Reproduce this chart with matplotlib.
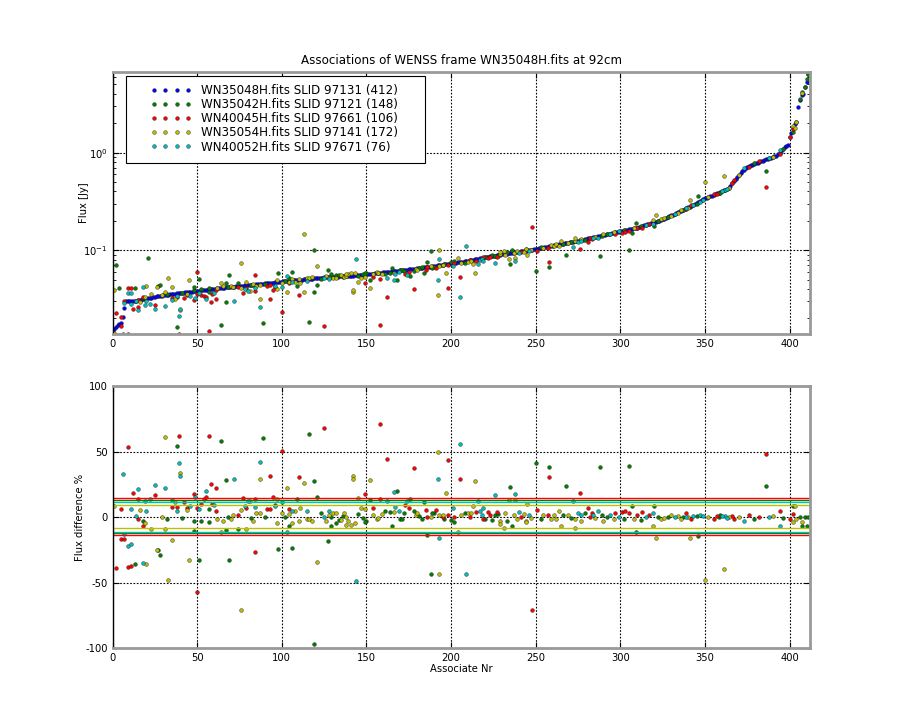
import numpy as np
import matplotlib
matplotlib.use("Agg")
import matplotlib.pyplot as plt
from matplotlib.lines import Line2D
from matplotlib.patches import Rectangle
from matplotlib.legend_handler import HandlerLine2D

plt.rcParams['axes.unicode_minus'] = False
plt.rcParams['font.family'] = ['DejaVu Sans']

title = "Associations of WENSS frame WN35048H.fits at 92cm"
labels = ["WN35048H.fits SLID 97131 (412)", "WN35042H.fits SLID 97121 (148)",
          "WN40045H.fits SLID 97661 (106)", "WN35054H.fits SLID 97141 (172)",
          "WN40052H.fits SLID 97671 (76)"]
colors = ["#0000ff", "#008000", "#ff0000", "#bfbf00", "#00bfbf"]

# Reference (blue) fluxes in Jy, sorted, one per associate index 0..411
blue_flux = [
 0.0146,0.0155,0.0163,0.0172,0.0175,0.0178,0.0205,0.0258,0.0298,0.0300,
 0.0301,0.0302,0.0303,0.0304,0.0305,0.0307,0.0309,0.0311,0.0313,0.0315,
 0.0318,0.0321,0.0324,0.0327,0.0330,0.0333,0.0336,0.0339,0.0341,0.0343,
 0.0344,0.0346,0.0348,0.0350,0.0352,0.0354,0.0356,0.0358,0.0360,0.0362,
 0.0364,0.0366,0.0368,0.0370,0.0372,0.0374,0.0376,0.0377,0.0379,0.0381,
 0.0383,0.0385,0.0387,0.0388,0.0390,0.0392,0.0394,0.0396,0.0398,0.0400,
 0.0402,0.0404,0.0406,0.0408,0.0410,0.0412,0.0414,0.0416,0.0418,0.0419,
 0.0421,0.0422,0.0424,0.0426,0.0428,0.0429,0.0431,0.0433,0.0435,0.0436,
 0.0438,0.0440,0.0441,0.0443,0.0445,0.0447,0.0448,0.0450,0.0452,0.0454,
 0.0456,0.0458,0.0460,0.0462,0.0464,0.0466,0.0468,0.0470,0.0472,0.0474,
 0.0476,0.0478,0.0480,0.0482,0.0484,0.0486,0.0488,0.0490,0.0492,0.0494,
 0.0496,0.0498,0.0500,0.0502,0.0504,0.0506,0.0508,0.0510,0.0512,0.0514,
 0.0516,0.0519,0.0520,0.0522,0.0523,0.0525,0.0526,0.0528,0.0529,0.0531,
 0.0532,0.0534,0.0535,0.0537,0.0538,0.0540,0.0541,0.0543,0.0544,0.0546,
 0.0547,0.0549,0.0550,0.0552,0.0553,0.0555,0.0556,0.0558,0.0560,0.0562,
 0.0565,0.0568,0.0570,0.0573,0.0576,0.0578,0.0581,0.0584,0.0587,0.0590,
 0.0592,0.0595,0.0598,0.0601,0.0604,0.0607,0.0610,0.0612,0.0615,0.0618,
 0.0620,0.0623,0.0626,0.0630,0.0633,0.0636,0.0639,0.0643,0.0646,0.0649,
 0.0652,0.0656,0.0659,0.0662,0.0666,0.0669,0.0673,0.0676,0.0680,0.0684,
 0.0688,0.0693,0.0697,0.0701,0.0706,0.0710,0.0714,0.0719,0.0723,0.0728,
 0.0732,0.0737,0.0741,0.0746,0.0751,0.0755,0.0760,0.0765,0.0770,0.0776,
 0.0782,0.0788,0.0794,0.0800,0.0806,0.0812,0.0818,0.0825,0.0831,0.0837,
 0.0843,0.0850,0.0856,0.0863,0.0870,0.0875,0.0881,0.0887,0.0893,0.0899,
 0.0904,0.0910,0.0916,0.0922,0.0928,0.0934,0.0940,0.0946,0.0952,0.0958,
 0.0964,0.0970,0.0977,0.0983,0.0989,0.0995,0.1002,0.1008,0.1014,0.1020,
 0.1028,0.1036,0.1044,0.1052,0.1060,0.1069,0.1077,0.1085,0.1094,0.1102,
 0.1111,0.1119,0.1128,0.1137,0.1146,0.1155,0.1164,0.1173,0.1182,0.1191,
 0.1200,0.1210,0.1219,0.1229,0.1240,0.1251,0.1262,0.1273,0.1284,0.1295,
 0.1307,0.1318,0.1330,0.1342,0.1354,0.1366,0.1378,0.1390,0.1403,0.1415,
 0.1428,0.1441,0.1454,0.1467,0.1480,0.1493,0.1507,0.1520,0.1534,0.1550,
 0.1563,0.1576,0.1589,0.1603,0.1616,0.1630,0.1644,0.1658,0.1672,0.1686,
 0.1700,0.1722,0.1745,0.1768,0.1791,0.1815,0.1839,0.1863,0.1887,0.1912,
 0.1938,0.1963,0.1989,0.2015,0.2042,0.2070,0.2109,0.2149,0.2190,0.2232,
 0.2274,0.2317,0.2361,0.2406,0.2452,0.2498,0.2546,0.2594,0.2643,0.2694,
 0.2745,0.2797,0.2850,0.2904,0.2960,0.303,0.310,0.318,0.325,0.333,
 0.339,0.345,0.351,0.357,0.363,0.369,0.375,0.382,0.388,0.395,
 0.402,0.409,0.416,0.423,0.430,0.46,0.49,0.513,0.537,0.563,
 0.59,0.62,0.65,0.67,0.69,0.71,0.73,0.74,0.75,0.77,
 0.78,0.79,0.81,0.82,0.83,0.84,0.85,0.87,0.88,0.89,
 0.90,0.92,0.93,0.96,1.00,1.04,1.08,1.13,1.18,1.20,
 1.44,1.60,1.80,1.98,2.05,2.9,3.5,3.9,4.0,4.7,5.3,6.4]

# Associated sources: associate index and flux difference % = (ref - assoc) / ref * 100
green_idx = [18,32,38,41,48,52,57,57,64,67,68,82,89,90,102,109,116,119,121,123,129,132,134,136,145,148,150,152,
             161,164,168,170,171,172,176,178,181,183,184,190,13,27,28,48,51,67,69,74,98,104,106,119,127,129,149,
             165,186,188,189,196,200,202,208,220,224,226,228,233,235,250,253,258,266,268,271,279,288,289,292,302,
             305,307,312,320,322,328,337,345,358,359,379,386,396,406,409,411,236,309,346,407,410,402,2,4,21]
green_diff = [-2.8,-1.3,54.2,-0.5,-3.3,-3.3,-3.8,5.8,58.2,28.5,-0.3,-0.8,60.7,0.3,0.3,13.9,63.7,27.5,15.4,2.8,-0.3,
              -4.8,-2.3,0.8,2.3,-0.8,-3.3,12.8,4.8,3.8,19.9,-1.8,-1.3,2.8,13.9,4.3,0.8,-1.3,11.8,3.3,-35.7,-25.5,
              -28.8,-10.5,-32.7,-9.7,-32.7,-8.9,-24.2,-7.1,-23.5,-96.9,-18.6,-7.1,-3.6,-7.1,-13.3,-43.4,3.5,-1.3,
              -2.3,-3.8,3.5,-1.8,-2.3,1.8,2.3,-2.8,22.9,41.0,-1.8,38.0,1.3,23.9,-0.8,2.8,38.0,1.8,-0.3,-1.8,39.0,
              8.8,-2.3,8.8,-0.3,-0.3,0.3,0.8,0.3,1.8,-1.3,23.9,-0.8,-0.3,0.3,0.3,-7.1,-11.7,-14.8,-7.1,-7.1,8.7,
              -333,-133,-159]

red_idx = [5,9,12,15,15,25,35,38,39,42,44,48,50,52,54,55,57,58,59,61,61,74,77,79,84,91,93,93,95,96,100,104,110,
           125,149,154,158,158,162,173,175,178,185,186,191,2,5,7,9,11,18,50,84,195,198,198,202,205,211,215,219,
           222,223,227,241,251,257,258,276,281,282,283,297,301,303,305,310,313,317,339,342,355,367,376,382,386,
           394,400,248,402,366,357]
red_diff = [5.8,53.4,18.4,13.9,-1.3,16.9,7.8,7.8,62.2,11.3,6.8,17.9,6.8,10.3,13.9,15.4,62.2,25.4,10.3,22.4,4.3,1.3,
            14.9,6.8,13.9,5.8,5.8,31.5,15.4,9.3,50.6,5.8,30.5,67.8,17.9,7.3,13.9,70.8,44.1,9.3,6.8,37.5,5.3,-0.3,
            5.3,-38.8,-16.6,-16.6,-37.8,-37.2,-6.9,-57.1,-26.5,-0.3,1.8,43.6,-0.3,29.0,0.3,3.8,-1.3,3.8,1.8,3.8,
            0.3,5.3,1.8,30.5,18.4,7.3,-0.3,3.3,3.3,3.8,4.3,2.8,1.8,3.8,1.3,2.8,-1.8,-1.8,-1.3,1.3,-0.3,48.1,4.3,
            -1.3,-70.9,2.0,0.5,0.5]

yellow_idx = [1,19,16,29,31,37,40,44,62,65,70,71,76,81,83,85,87,87,97,97,100,103,104,106,108,110,111,113,115,116,
              118,126,128,130,132,135,137,138,139,142,142,143,145,147,149,152,154,156,157,159,166,179,180,188,192,
              193,20,23,26,31,33,35,45,64,76,79,121,138,141,193,195,197,206,210,212,213,214,229,232,234,237,238,
              239,243,244,245,247,254,259,261,262,264,269,273,277,285,290,296,308,324,326,330,334,336,340,352,364,
              370,390,402,403,404,204,229,231,244,265,273,319,321,341,350,361,407,1,113]
yellow_diff = [8.8,-4.8,5.5,-0.3,61.5,11.8,33.5,5.5,-1.8,-3.3,-1.8,1.3,5.3,12.3,-2.8,3.3,3.3,29.0,13.9,-4.8,2.8,22.4,
               2.3,-4.8,4.8,-2.8,7.3,25.9,-1.8,-1.8,-3.3,-3.3,1.3,3.3,3.3,-2.3,2.8,0.3,-3.3,31.5,29.0,-4.8,14.4,7.3,
               6.3,28.5,1.8,-1.8,-0.8,2.3,3.8,1.3,3.3,-0.3,50.1,1.8,-35.7,-8.9,-25.0,-8.9,-48.0,-17.3,-32.7,-11.7,
               -70.9,-8.9,-34.2,-5.9,-6.1,-43.4,1.3,18.4,1.8,2.8,2.8,8.8,27.5,-2.8,2.8,13.4,1.3,13.4,-1.8,2.3,-3.3,
               10.3,-0.8,1.3,-1.8,1.8,-1.8,4.3,1.3,-1.8,-3.3,-0.8,-3.3,-1.3,-1.3,-1.3,-0.8,1.3,0.8,-1.3,0.3,0.3,-0.3,
               -0.3,0.8,-3.8,8.8,-1.3,-11.2,-5.6,-8.7,-3.6,-6.6,-8.2,-6.6,-15.8,-16.3,-48.0,-39.3,-4.1,-152,-194]

cyan_idx = [6,11,15,14,19,20,22,25,31,35,38,39,40,46,49,51,55,60,72,78,80,84,87,96,100,106,115,125,128,162,166,167,
            169,174,192,7,9,11,18,103,144,193,201,205,216,217,218,219,226,238,240,246,272,275,277,284,287,294,299,
            315,319,332,347,349,362,373,388,209,394,360,363,339,343]
cyan_diff = [32.7,6.3,21.4,0.5,12.3,4.8,13.9,24.4,22.4,13.1,5.0,41.0,31.2,8.8,15.4,5.8,19.9,9.3,29.0,8.8,12.3,7.8,
             42.0,8.3,11.3,4.3,4.8,0.3,4.3,12.3,18.9,7.8,4.3,12.3,29.0,-12.8,-22.4,-20.9,-34.7,-11.7,-48.5,-15.8,
             7.3,56.2,12.3,4.8,1.8,7.3,16.9,17.9,3.8,1.3,12.3,2.8,1.3,1.8,4.8,1.8,-0.3,0.3,3.3,-0.3,1.8,0.8,0.8,
             -3.3,-0.3,-43.4,-7.1,0.5,-0.5,0.3,0.5]

# Spread limits of the differences per series (upper, lower)
green_lim = (12.8, -12.2)
red_lim = (14.4, -13.4)
yellow_lim = (9.3, -8.7)
cyan_lim = (11.8, -11.5)

series = [(green_idx, green_diff, green_lim), (red_idx, red_diff, red_lim),
          (yellow_idx, yellow_diff, yellow_lim), (cyan_idx, cyan_diff, cyan_lim)]

blue = np.array(blue_flux)
n = len(blue)

fig, (ax1, ax2) = plt.subplots(2, 1, figsize=(9, 7.2), dpi=100)
fig.subplots_adjust(left=0.125, right=0.9, bottom=0.1, top=0.9, hspace=0.2)

mk = dict(ls='none', marker='o', ms=2.7, mec='#202020', mew=0.3)

ax1.plot(np.arange(n), blue, color=colors[0], **mk)
for (idx, diff, lim), c in zip(series, colors[1:]):
    idx = np.array(idx)
    d = np.array(diff, dtype=float)
    ax1.plot(idx, blue[idx] * (1 - d / 100.0), color=c, **mk)
    ax2.plot(idx, d, color=c, **mk)

for (idx, diff, lim), c in zip(series, colors[1:]):
    for v in lim:
        ax2.axhline(v, color=c, lw=1.0)

ax1.set_yscale('log')
ax1.set_xlim(0, 412)
ax1.set_ylim(0.0139, 6.7)
ax2.set_xlim(0, 412)
ax2.set_ylim(-100, 100)
ax2.set_yticks([-100, -50, 0, 50, 100])

for ax in (ax1, ax2):
    ax.set_xticks([0, 50, 100, 150, 200, 250, 300, 350, 400])
    ax.grid(True, which='major', color='k', linestyle=(0, (1.5, 1.5)), lw=0.8)
    ax.tick_params(which='both', direction='in', top=True, right=True, labelsize=7.2)
    ax.tick_params(which='major', length=4)
    ax.tick_params(which='minor', length=2)
    for s in ('top', 'right', 'bottom'):
        ax.spines[s].set_color('#999999')
        ax.spines[s].set_linewidth(2)
    ax.spines['left'].set_color('k')
    ax.spines['left'].set_linewidth(1)

ax1.set_title(title, fontsize=8.6)
ax1.set_ylabel("Flux [Jy]", fontsize=7.2, labelpad=-4)
ax2.set_ylabel("Flux difference %", fontsize=7.2, labelpad=0)
ax2.set_xlabel("Associate Nr", fontsize=7.2, labelpad=1)


class DotsHandler(HandlerLine2D):
    def get_xdata(self, legend, xdescent, ydescent, width, height, fontsize):
        xd = np.linspace(0.33 * width, 0.94 * width, 4) - xdescent
        return xd, xd


handles = [Line2D([], [], color=c, **mk) for c in colors]
leg = ax1.legend(handles, labels, loc='upper left', bbox_to_anchor=(0.0234, 0.978),
                 frameon=False, fontsize=8.6, numpoints=4, handlelength=4.76,
                 handletextpad=0.8, labelspacing=0.1, borderpad=0.5, borderaxespad=0,
                 handler_map={Line2D: DotsHandler(numpoints=4)})
ax1.add_patch(Rectangle((0.0194, 0.6524), 0.4287, 0.3323, transform=ax1.transAxes,
                        fill=True, facecolor='white', edgecolor='k', lw=0.8, zorder=4))
leg.set_zorder(5)

fig.savefig("out.png", dpi=100)
